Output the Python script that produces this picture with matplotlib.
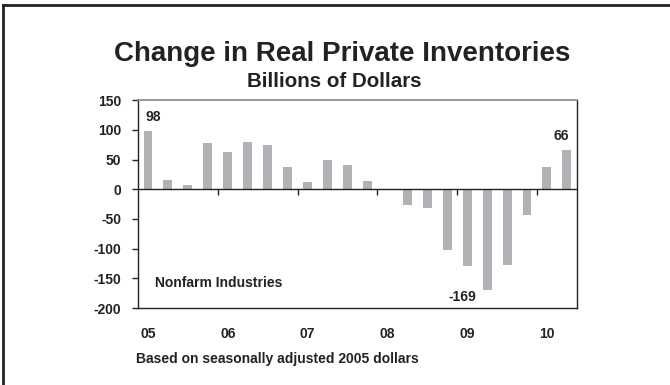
import matplotlib
matplotlib.use("Agg")
import matplotlib.pyplot as plt
from matplotlib.lines import Line2D

plt.rcParams['font.family'] = ['Liberation Sans', 'DejaVu Sans']
plt.rcParams['font.weight'] = 'bold'
plt.rcParams['axes.unicode_minus'] = False

# quarterly change in real private inventories, 2005Q1 - 2010Q2
quarters = ["05Q1", "05Q2", "05Q3", "05Q4", "06Q1", "06Q2", "06Q3", "06Q4",
            "07Q1", "07Q2", "07Q3", "07Q4", "08Q1", "08Q2", "08Q3", "08Q4",
            "09Q1", "09Q2", "09Q3", "09Q4", "10Q1", "10Q2"]
values = [98, 16, 7, 78, 63, 80, 74, 37, 12, 50, 40, 14,
          -1, -27, -31, -102, -130, -169, -128, -44, 37, 66]
year_labels = ["05", "06", "07", "08", "09", "10"]

x = list(range(len(values)))
dark = "#222222"

fig = plt.figure(figsize=(6.7, 3.85), dpi=100)
ax = fig.add_axes([0.206, 0.200, 0.655, 0.540])

ax.bar(x, values, width=0.45, color="#b2b2b6", zorder=2)
ax.axhline(0, color=dark, lw=1.0, zorder=3)

# year boundary ticks on the zero line
bounds = [i - 0.5 for i in x if i % 4 == 0 and i > 0]
ax.vlines(bounds, -9, 0, color=dark, lw=1.0, zorder=3)

ax.set_xlim(-0.5, len(values) - 0.5)
ax.set_ylim(-200, 150)
ax.set_yticks(range(-200, 151, 50))
ax.set_xticks([i for i in x if i % 4 == 0])
ax.set_xticklabels(year_labels)
ax.tick_params(axis="x", length=0, pad=14, labelsize=10)
ax.tick_params(axis="y", length=4, width=1, pad=8, labelsize=10, color=dark)
for lab in ax.get_xticklabels() + ax.get_yticklabels():
    lab.set_fontweight("bold")
    lab.set_color(dark)

for s in ["left", "bottom", "right"]:
    ax.spines[s].set_color(dark)
    ax.spines[s].set_linewidth(1.0)
ax.spines["top"].set_color("#888888")
ax.spines["top"].set_linewidth(1.2)

# value labels
ax.annotate(str(values[0]), (x[0], values[0]), xytext=(4, 5), textcoords="offset points",
            ha="center", va="bottom", fontsize=10, fontweight="bold", color=dark)
ax.annotate(str(values[-1]), (x[-1], values[-1]), xytext=(-4, 5), textcoords="offset points",
            ha="center", va="bottom", fontsize=10, fontweight="bold", color=dark)
imin = values.index(min(values))
ax.annotate(str(values[imin]), (x[imin], values[imin]), xytext=(-18, 0), textcoords="offset points",
            ha="center", va="top", fontsize=10, fontweight="bold", color=dark)

ax.text(0.35, -158, "Nonfarm Industries", ha="left", va="center",
        fontsize=10, fontweight="bold", color=dark)

fig.text(0.51, 0.841, "Change in Real Private Inventories", ha="center", va="baseline",
         fontsize=20, fontweight="bold", color=dark)
fig.text(0.4985, 0.773, "Billions of Dollars", ha="center", va="baseline",
         fontsize=14.8, fontweight="bold", color=dark)
fig.text(0.203, 0.057, "Based on seasonally adjusted 2005 dollars", ha="left", va="baseline",
         fontsize=10, fontweight="bold", color=dark)

# outer frame
fig.add_artist(Line2D([0.0045, 1.0], [0.987, 0.987], color=dark, lw=2.0))
fig.add_artist(Line2D([0.0045, 0.0045], [0.0, 0.987], color=dark, lw=2.0))

fig.savefig("out.png", dpi=100)
